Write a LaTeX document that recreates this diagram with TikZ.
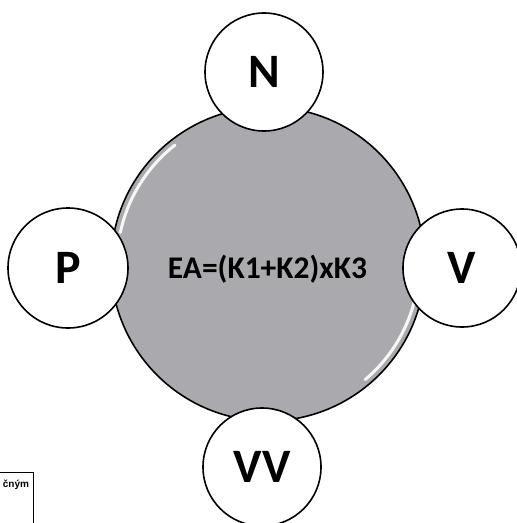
\documentclass[tikz,border=0pt]{standalone}
\usepackage{fontspec}
\setmainfont{Carlito}
\newfontfamily\arialfont{Liberation Sans}
\definecolor{discgray}{RGB}{170,170,174}
\begin{document}
\begin{tikzpicture}[x=1pt,y=-1pt,
  bigdisc/.style={circle,draw=black,line width=1.6pt,fill=discgray,minimum size=314pt,inner sep=0pt},
  smallcirc/.style={circle,draw=black,line width=1.6pt,fill=white,minimum size=118pt,inner sep=0pt,
    font=\fontsize{48}{48}\selectfont\bfseries},
  formula/.style={font=\fontsize{31.5}{32}\selectfont\bfseries,inner sep=0pt,anchor=base},
  gloss/.style={white,line width=3pt,line cap=round,opacity=0.9},
]
\useasboundingbox (0,0) rectangle (517,523);
\fill[white] (0,0) rectangle (517,523);
% central disc
\node[bigdisc] (disc) at (268,264) {};
% glossy highlights
\draw[gloss] (disc.center) ++(-168:151) arc[start angle=-168,end angle=-128,radius=151];
\draw[gloss] (disc.center) ++(14:151) arc[start angle=14,end angle=50,radius=151];
% formula
\node[formula] (formula) at (267.5,278) {EA=(K1+K2)xK3};
% satellite circles
\node[smallcirc] (n) at (264,72) {N};
\node[smallcirc,minimum size=120pt] (p) at (68,268) {P};
\node[smallcirc] (v) at (462,268) {V};
\node[smallcirc] (vv) at (262,467) {VV};
% partial box at bottom left
\draw[line width=0.7pt] (-2,472) -| (33,525);
\node[font=\arialfont\fontsize{10}{10}\selectfont\bfseries,inner sep=0pt] (cnym) at (16,485) {čným};
\end{tikzpicture}
\end{document}
